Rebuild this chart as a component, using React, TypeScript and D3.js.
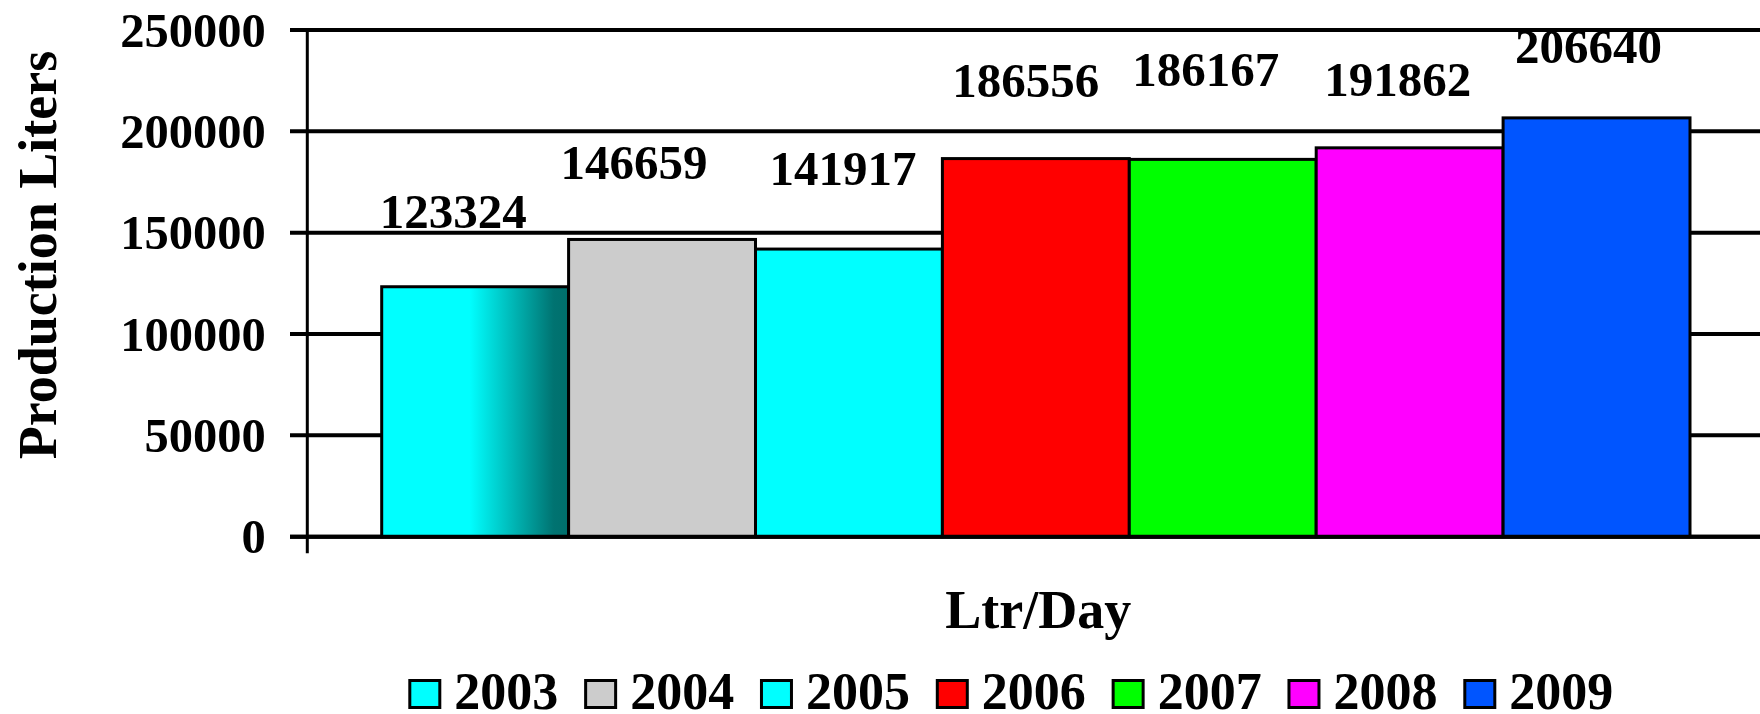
import React from 'react';
import * as d3 from 'd3';

// Daily milk production by year
const years = ['2003', '2004', '2005', '2006', '2007', '2008', '2009'];
const production = [123324, 146659, 141917, 186556, 186167, 191862, 206640];
const yTicks = [0, 50000, 100000, 150000, 200000, 250000];
const barFills = ['url(#fade2003)', '#CCCCCC', '#00FFFF', '#FF0000', '#00FF00', '#FF00FF', '#0055FF'];
const legendFills = ['#00FFFF', '#CCCCCC', '#00FFFF', '#FF0000', '#00FF00', '#FF00FF', '#0055FF'];

// per-bar label offsets [dx from bar centre, dy from bar top]
const labelNudge: [number, number][] = [
  [-22, -59], [-28, -60], [-6, -64], [-10, -62], [-17, -73], [-12, -52], [-8, -55],
];

const W = 1760;
const H = 714;
const FONT = '"Liberation Serif", "Times New Roman", serif';

export default function App() {
  const axisX = 307.3;
  const tickLeft = 290;
  const gridRight = 1766;
  const plotTop = 30;
  const plotBottom = 536.7;

  const y = d3.scaleLinear().domain([0, 250000]).range([plotBottom, plotTop]);
  const x = d3.scaleBand<string>().domain(years).range([381.7, 1690]).padding(0);

  const legendX = d3.scalePoint<string>().domain(years).range([408.3, 1463.3]);

  return (
    <svg
      width={W}
      height={H}
      viewBox={`0 0 ${W} ${H}`}
      style={{ position: 'absolute', left: 0, top: 0, display: 'block', background: '#fff' }}
    >
      <defs>
        <linearGradient id="fade2003" x1="0" y1="0" x2="1" y2="0">
          <stop offset="0" stopColor="#00FFFF" />
          <stop offset="0.47" stopColor="#00FFFF" />
          <stop offset="0.92" stopColor="#007371" />
          <stop offset="1" stopColor="#006F6C" />
        </linearGradient>
      </defs>
      <rect width={W} height={H} fill="#fff" />

      {/* horizontal gridlines with left tick stubs */}
      {yTicks.map((t) => (
        <line key={t} x1={tickLeft} x2={gridRight} y1={y(t)} y2={y(t)} stroke="#000" strokeWidth={4} />
      ))}

      {/* bars */}
      {years.map((yr, i) => (
        <rect
          key={yr}
          x={x(yr)}
          y={y(production[i])}
          width={x.bandwidth()}
          height={y(0) - y(production[i])}
          fill={barFills[i]}
          stroke="#000"
          strokeWidth={3}
        />
      ))}

      {/* axes */}
      <line x1={tickLeft} x2={gridRight} y1={y(0)} y2={y(0)} stroke="#000" strokeWidth={4} />
      <line x1={axisX} x2={axisX} y1={plotTop} y2={553.3} stroke="#000" strokeWidth={3} />

      {/* y tick labels */}
      {yTicks.map((t) => (
        <text
          key={t}
          x={265.7}
          y={y(t) + 16.6}
          textAnchor="end"
          fontFamily={FONT}
          fontWeight="bold"
          fontSize={48.5}
          fill="#000"
        >
          {t}
        </text>
      ))}

      {/* value labels */}
      {years.map((yr, i) => (
        <text
          key={yr}
          x={(x(yr) as number) + x.bandwidth() / 2 + labelNudge[i][0]}
          y={y(production[i]) + labelNudge[i][1]}
          textAnchor="middle"
          fontFamily={FONT}
          fontWeight="bold"
          fontSize={49}
          fill="#000"
        >
          {production[i]}
        </text>
      ))}

      {/* axis titles */}
      <text
        transform="translate(56,255) rotate(-90)"
        textAnchor="middle"
        fontFamily={FONT}
        fontWeight="bold"
        fontSize={54}
        fill="#000"
      >
        Production Liters
      </text>
      <text
        x={1038.3}
        y={628.3}
        textAnchor="middle"
        fontFamily={FONT}
        fontWeight="bold"
        fontSize={54}
        fill="#000"
      >
        Ltr/Day
      </text>

      {/* legend */}
      {years.map((yr, i) => {
        const lx = legendX(yr) as number;
        return (
          <g key={yr}>
            <rect x={lx + 1.5} y={680.5} width={30} height={27} fill={legendFills[i]} stroke="#000" strokeWidth={3} />
            <text x={lx + 46} y={709.3} fontFamily={FONT} fontWeight="bold" fontSize={52} fill="#000">
              {yr}
            </text>
          </g>
        );
      })}
    </svg>
  );
}
